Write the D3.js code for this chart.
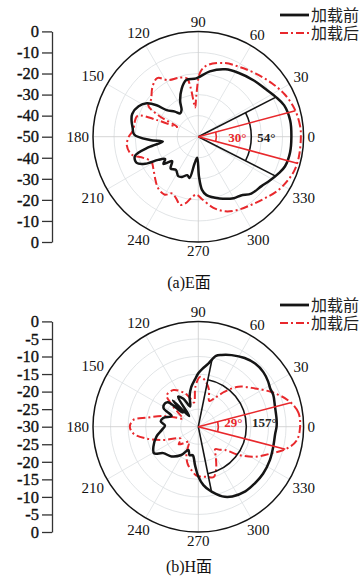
<!DOCTYPE html>
<html>
<head>
<meta charset="utf-8">
<script src="https://cdn.jsdelivr.net/npm/d3@7"></script>
<style>
  body { margin: 0; background: #fff; }
  svg { display: block; }
  svg text { font-family: "Liberation Serif", "DejaVu Serif", "Noto Sans CJK SC", serif; }
</style>
</head>
<body>
<svg id="chart" width="364" height="579" style="font-family: 'Liberation Serif', 'DejaVu Serif', 'Noto Sans CJK SC', serif;"></svg>
<script>
// ---- data -------------------------------------------------------------
const seriesNames = ["加载前", "加载后"];
const captions = ["(a)E面", "(b)H面"];
const angleTicks = [0, 30, 60, 90, 120, 150, 180, 210, 240, 270, 300, 330];

// E-plane pattern: [angle in degrees, gain in dB]
const eBefore = [
  [0,-5.8],[10,-5.7],[20,-6.6],[27,-8.6],[35,-10.8],[45,-12.4],[58,-14.2],[68,-15.5],
  [80,-18.5],[92,-22.3],[102,-22.5],[109,-25.8],[117,-31],[122,-35],[128,-36],[133,-33.7],
  [140,-30.4],[143,-25.2],[147,-20.9],[153,-18.2],[161,-16.8],[167,-17.5],[172,-18.5],
  [178,-19.5],[184,-27],[188,-33],[192,-26],[197,-18.5],[203,-18.2],[207,-21.7],[210,-28],
  [214,-31],[218,-29],[223,-33],[229,-30],[236,-31],[243,-29],[248,-29.4],[254,-31],
  [258,-30],[262,-37],[267,-40],[271,-31],[274,-24.7],[278,-22],[289,-19],[300,-16.3],
  [306,-15.5],[313,-13.1],[322,-11.9],[328,-10.3],[335,-8.2],[341,-6.5],[350,-5.8]
];
const eAfter = [
  [0,-1.3],[6,-1.4],[16,-2.4],[26,-4.3],[36,-6.8],[48,-9.5],[60,-11.6],[70,-12.8],
  [82,-15.5],[88,-19],[93,-31],[96,-36],[99,-26],[101,-21.8],[107,-20.6],[118,-19.6],
  [125,-16],[133,-18],[142,-21.5],[148,-22],[152,-29],[155,-39],[158,-29],[161,-19.5],
  [168,-19],[174,-19],[180,-17],[187,-15.8],[195,-17.2],[201,-22],[208,-24.8],[215,-23.9],
  [224,-21.5],[232,-19],[240,-18.2],[245,-20.3],[250,-19],[255,-16.5],[259,-17.7],
  [263,-20.4],[268,-22.5],[273,-20.5],[282,-15.5],[290,-12.3],[299,-10.4],[308,-9],
  [317,-7],[326,-4.4],[334,-2.7],[341,-1.6],[349,-1.3]
];

// H-plane pattern: [angle in degrees, gain in dB]
const hBefore = [
  [0,-7.7],[5,-7.6],[15,-7.4],[23,-6.8],[28,-6.8],[33,-6.3],[40,-5.8],[48,-5.8],
  [56,-6.4],[65,-7.5],[72,-8.5],[76,-9.2],[81,-11.8],[86,-13.5],[90,-14.8],[94,-16.5],
  [100,-18.5],[106,-21],[112,-23.8],[118,-21],[124,-19.7],[128,-25],[131,-26],[134,-19.6],
  [138,-24],[141,-18.9],[145,-18.4],[152,-18.8],[158,-21.8],[166,-19.7],[172,-19.2],
  [178,-20.5],[185,-19.6],[193,-17.8],[204,-16],[211,-15.3],[217,-17.5],[228,-18.6],
  [239,-20.6],[247,-22.8],[253,-21.5],[259,-21.7],[265,-19.1],[270,-15.8],[275,-13.3],
  [280,-11.6],[284,-10.4],[289,-9],[296,-7.9],[306,-7.2],[315,-7.2],[324,-7.2],
  [335,-7.5],[345,-7.9],[355,-8]
];
const hAfter = [
  [0,-1.0],[8,-1.2],[16,-3.2],[25,-6.8],[34,-10.5],[45,-13.9],[53,-17.5],[60,-20.5],
  [67,-22],[74,-19],[82,-16.6],[88,-15.8],[94,-18.5],[100,-23],[106,-21.5],[112,-19.7],
  [124,-17.4],[135,-17.3],[139,-19.2],[145,-23],[152,-25],[158,-23],[163,-19.6],
  [170,-15.1],[174,-11.4],[180,-10.5],[186,-11.4],[193,-14.9],[201,-19.4],[208,-23],
  [215,-24],[222,-22.5],[230,-24],[238,-25],[246,-21.7],[254,-19],[261,-17.5],[267,-16.2],
  [272,-15.8],[280,-15.5],[287,-15],[293,-17],[300,-20],[307,-22],[313,-21],[319,-19.9],
  [325,-16],[332,-11.8],[340,-7.8],[346,-4.1],[352,-1.7]
];

// half-power beamwidths in degrees: [加载前, 加载后]
const eBeamwidths = [54, 30];
const hBeamwidths = [157, 29];

// ---- drawing -----------------------------------------------------------
const svg = d3.select("#chart");
const FONT = '"Liberation Serif", "DejaVu Serif", "Noto Sans CJK SC", serif';
const BLACK = "#151515";
const RED = "#e8282c";
const DASHDOT = "8,3,2,3";
const toRad = d => d * Math.PI / 180;

// linear read-out of a pattern at an arbitrary angle (wraps at 360)
function gainAt(series, ang) {
  const a = ((ang % 360) + 360) % 360;
  const n = series.length;
  for (let i = 0; i < n; i++) {
    const p = series[i], q = series[(i + 1) % n];
    const qa = i + 1 === n ? q[0] + 360 : q[0];
    if (a >= p[0] && a <= qa) {
      const t = (a - p[0]) / (qa - p[0]);
      return p[1] + t * (q[1] - p[1]);
    }
  }
  return series[0][1];
}

function drawPanel(cfg) {
  const { cx, cy, R, minDb, step, before, after, beams, caption, legendY, captionY, arcR, labelDy } = cfg;
  const g = svg.append("g");
  const r = d3.scaleLinear().domain([minDb, 0]).range([0, R]).clamp(true);

  // radial scale on the left, mirrored about the centre
  const span = -minDb;
  const y = d3.scaleLinear().domain([span, -span]).range([cy - R, cy + R]);
  const tv = d3.range(span, -span - 0.001, -step);
  const axis = d3.axisLeft(y).tickValues(tv).tickSize(10).tickSizeOuter(0).tickPadding(3)
    .tickFormat(u => String(Math.round(Math.abs(u) - span)));
  const ax = g.append("g").attr("transform", `translate(52,0)`).call(axis);
  ax.attr("font-family", FONT).attr("font-size", 16.5);
  ax.selectAll("text").attr("fill", "#111").attr("stroke", "#111").attr("stroke-width", 0.35)
    .style("font-family", FONT).style("font-size", "16.5px");
  ax.selectAll("line, path").attr("stroke", "#333").attr("stroke-width", 1.3);

  const plot = g.append("g").attr("transform", `translate(${cx},${cy})`);

  // grid rings and spokes
  const rings = d3.range(minDb + step, 0, step);
  plot.selectAll("circle.ring").data(rings).join("circle")
    .attr("r", d => r(d)).attr("fill", "none").attr("stroke", "#d9dde0").attr("stroke-width", 0.8);
  plot.selectAll("line.spoke").data(angleTicks).join("line")
    .attr("x2", d => R * Math.cos(toRad(d))).attr("y2", d => -R * Math.sin(toRad(d)))
    .attr("stroke", d => d % 90 === 0 ? "#c9c9c9" : "#dcdfe2").attr("stroke-width", 0.8);

  // outer ring
  plot.append("circle").attr("r", R).attr("fill", "none").attr("stroke", BLACK).attr("stroke-width", 1.5);

  // angle labels
  angleTicks.forEach(a => {
    const t = plot.append("text").text(a).style("font-family", FONT).attr("font-size", 15).attr("fill", "#111")
      .attr("text-anchor", "middle").attr("dominant-baseline", "central");
    const w = t.node().getComputedTextLength();
    const c = Math.cos(toRad(a)), s = Math.sin(toRad(a));
    const rr = R + 4 + Math.abs(c) * w / 2 + Math.abs(s) * 5.5;
    t.attr("x", rr * c).attr("y", -rr * s);
  });

  const line = d3.lineRadial()
    .angle(d => toRad(90 - d[0]))
    .radius(d => r(d[1]))
    .curve(d3.curveCatmullRomClosed.alpha(0.5));

  plot.append("path").attr("d", line(after)).attr("fill", "none")
    .attr("stroke", RED).attr("stroke-width", 2).attr("stroke-dasharray", DASHDOT);
  plot.append("path").attr("d", line(before)).attr("fill", "none")
    .attr("stroke", BLACK).attr("stroke-width", 2.5).attr("stroke-linejoin", "round");

  // beamwidth markers
  const arc = d3.arc();
  [[before, beams[0], BLACK, arcR[0]], [after, beams[1], RED, arcR[1]]].forEach(([ser, bw, col, ar]) => {
    const h = bw / 2;
    [h, -h].forEach(a => {
      const rr = r(gainAt(ser, a));
      plot.append("line").attr("x2", rr * Math.cos(toRad(a))).attr("y2", -rr * Math.sin(toRad(a)))
        .attr("stroke", col).attr("stroke-width", 1.6);
    });
    plot.append("path")
      .attr("d", arc({ innerRadius: ar, outerRadius: ar, startAngle: toRad(90 - h), endAngle: toRad(90 + h) }))
      .attr("fill", "none").attr("stroke", col).attr("stroke-width", 1.6);
  });
  plot.append("text").text(beams[1] + "°").attr("x", cfg.labelX[1]).attr("y", labelDy)
    .style("font-family", FONT)
    .attr("text-anchor", "middle").attr("font-size", 13).attr("font-weight", "bold").attr("fill", RED);
  plot.append("text").text(beams[0] + "°").attr("x", cfg.labelX[0]).attr("y", labelDy)
    .style("font-family", FONT)
    .attr("text-anchor", "middle").attr("font-size", 13).attr("font-weight", "bold").attr("fill", "#222");

  // legend
  const leg = g.append("g");
  [[BLACK, null, 2.8], [RED, DASHDOT, 2.2]].forEach(([col, dash, sw], i) => {
    const ly = legendY + i * 18;
    leg.append("line").attr("x1", 280).attr("x2", 309).attr("y1", ly).attr("y2", ly)
      .attr("stroke", col).attr("stroke-width", sw).attr("stroke-dasharray", dash);
    leg.append("text").text(seriesNames[i]).attr("x", 311).attr("y", ly + 5.5)
      .style("font-family", FONT).attr("font-size", 16).attr("fill", "#222");
  });

  // caption
  g.append("text").text(caption).attr("x", 189).attr("y", captionY)
    .style("font-family", FONT)
    .attr("text-anchor", "middle").attr("font-size", 16).attr("fill", "#111");
}

drawPanel({
  cx: 198.3, cy: 136.7, R: 105.3, minDb: -50, step: 10,
  before: eBefore, after: eAfter, beams: eBeamwidths,
  caption: captions[0], legendY: 15, captionY: 288,
  arcR: [53, 18], labelX: [68, 39], labelDy: 5
});
drawPanel({
  cx: 198.3, cy: 426.7, R: 105.3, minDb: -30, step: 5,
  before: hBefore, after: hAfter, beams: hBeamwidths,
  caption: captions[1], legendY: 305, captionY: 572,
  arcR: [48, 20], labelX: [66, 35], labelDy: 0
});
</script>
</body>
</html>
